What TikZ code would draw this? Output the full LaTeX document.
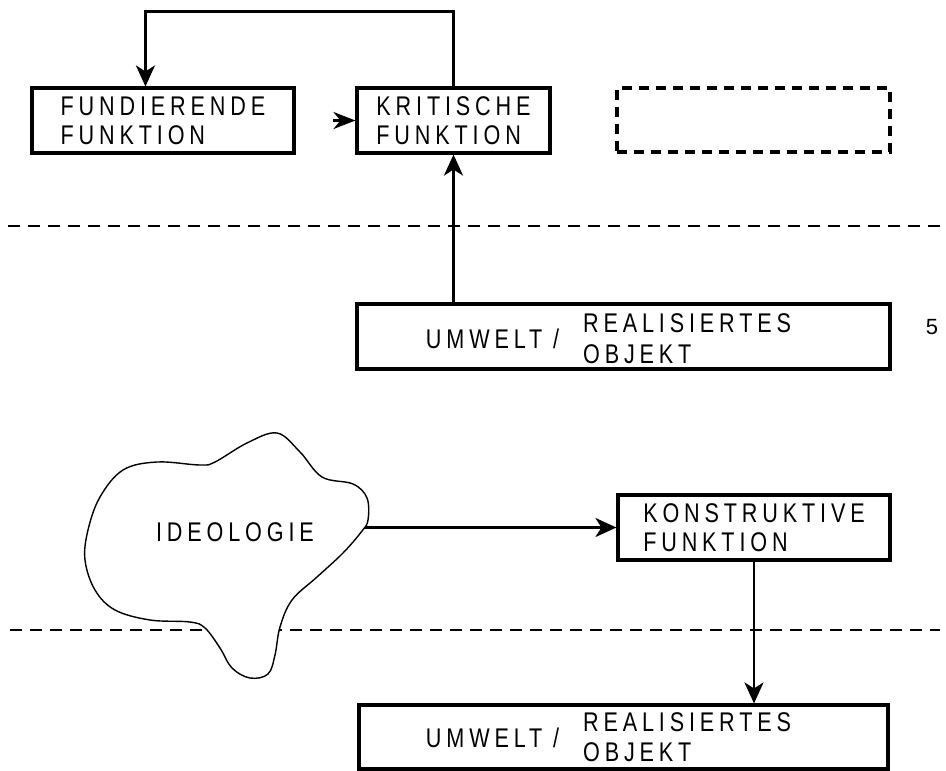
\documentclass[tikz,border=0pt]{standalone}
\usepackage{fontspec}
\usepackage{tikz}
\usetikzlibrary{arrows.meta,positioning,calc}
\setmainfont{Liberation Sans}
\newfontfamily\lettering[LetterSpace=18,FakeStretch=0.8]{Liberation Sans}

\begin{document}
\begin{tikzpicture}[x=1pt,y=-1pt,
      txt/.style={font=\lettering\fontsize{27}{29}\selectfont},
      funcbox/.style={txt, draw, line width=3.1pt, inner ysep=0pt, align=left, minimum height=65pt},
      arr/.style={-{Stealth[length=21pt,width=19pt,inset=6pt]}, line width=2.8pt},
      cut/.style={dash pattern=on 12pt off 8pt, line width=1.5pt}]
      \useasboundingbox (0,0) rectangle (946,771);
      % upper scheme
      \node[funcbox, minimum width=262pt] at (163,120.5) (fund) {FUNDIERENDE\\FUNKTION};
      \node[funcbox, minimum width=193pt] at (453.5,120.5) (krit) {KRITISCHE\\FUNKTION};
      \node[draw, line width=3.1pt, dash pattern=on 10pt off 7pt, minimum width=273pt, minimum height=64pt] at (753.5,120) (spare) {};
      \node[funcbox, minimum width=533pt] at (623.5,336.5) (env) {\raisebox{-6pt}[\height][\depth]{UMWELT /\hspace{24pt}\begin{tabular}{@{}l@{}}REALISIERTES\\[2pt]OBJEKT\end{tabular}}\hspace{30pt}};
      \node[font=\fontsize{22}{22}\selectfont] at (932,327) (pagenum) {5};
      \draw[cut] (8,226) -- (940,226);
      \draw[arr] (krit.north) -- ++(0,-75) -| ([xshift=115pt]fund.north west);
      \draw[arr] (krit.south |- env.north) -- (krit.south);
      \draw[-{Stealth[length=22pt,width=17pt,inset=7pt]}, line width=2.8pt] ([xshift=-22pt]krit.west) -- (krit.west);
      % lower scheme
      \node[funcbox, minimum width=272pt] at (754,527.5) (konstr) {KONSTRUKTIVE\\FUNKTION};
      \node[funcbox, minimum width=529pt, minimum height=64pt] at (623.5,737) (env2) {\raisebox{-4pt}[\height][\depth]{UMWELT /\hspace{24pt}\begin{tabular}{@{}l@{}}REALISIERTES\\[1pt]OBJEKT\end{tabular}}\hspace{30pt}};
      \coordinate (ideoout) at (362,527.5);
      \draw[cut] (10,630) -- (940,630);
      \draw[arr] (ideoout) -- (konstr.west);
      \draw[arr] (konstr.south) -- (konstr.south |- env2.north);
      \draw[line width=1.4pt, fill=white] plot[smooth cycle, tension=0.6] coordinates {
        (277,433) (300,452) (322,477) (353,484) (367,498) (368,520) (362,531)
        (343,553) (317,577) (292,600) (280,627) (275,655) (268,674) (250,678)
        (232,668) (220,648) (205,628) (190,622) (150,620) (115,610) (95,590)
        (85,560) (88,530) (100,497) (123,470) (157,462) (200,465) (215,462) (247,443)};
      \node[txt] at (235,532) (ideo) {IDEOLOGIE};
\end{tikzpicture}
\end{document}
